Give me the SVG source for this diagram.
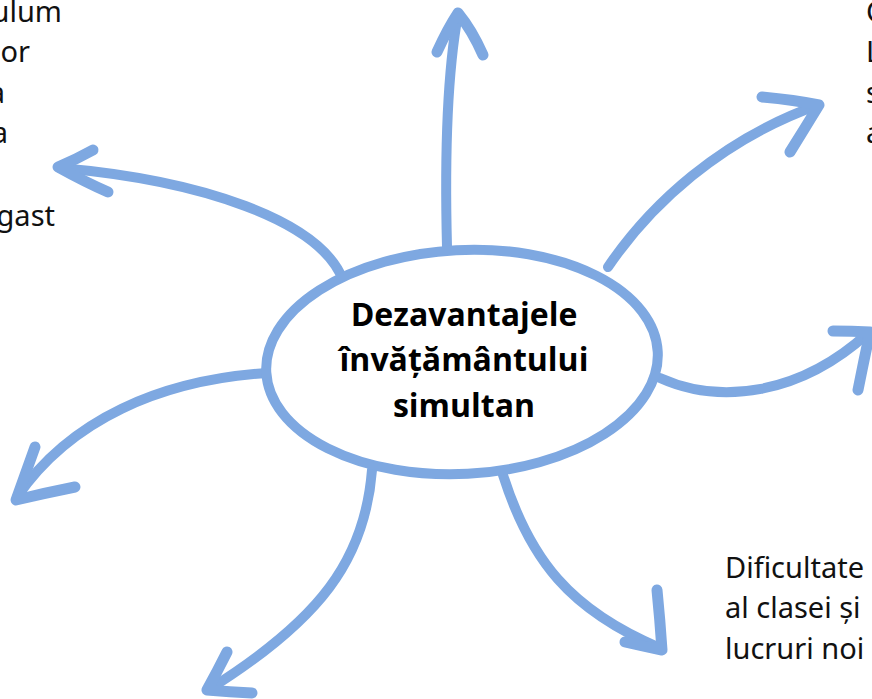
<svg xmlns="http://www.w3.org/2000/svg" width="872" height="699" viewBox="0 0 872 699">
<style>
.conn{fill:none;stroke:#7ea8e1;stroke-width:10;stroke-linecap:round;stroke-linejoin:round}
.head{fill:none;stroke:#7ea8e1;stroke-width:11;stroke-linecap:round;stroke-linejoin:round}
.side{font-family:"Noto Sans","Open Sans",sans-serif;font-size:29px;fill:#111}
.title{font-family:"Open Sans","Noto Sans",sans-serif;font-size:32px;font-weight:bold;fill:#000;text-anchor:middle}
</style>
<rect width="872" height="699" fill="#fff"/>
<g id="connectors">
<path class="conn" d="M447,247 C445,170 446,80 458,14"/>
<path class="head" d="M437,52 Q448,28 458,13 Q472,30 483,55"/>
<path class="conn" d="M608,267 C650,205 720,140 818,105"/>
<path class="head" d="M762,97 Q795,100 819,105 Q805,128 790,152"/>
<path class="conn" d="M660,378 C720,405 800,395 868,333"/>
<path class="head" d="M833,331 Q852,331 870,332 Q864,360 858,390"/>
<path class="conn" d="M343,280 C320,220 200,180 60,168"/>
<path class="head" d="M93,150 Q75,160 58,167 Q85,182 108,192"/>
<path class="conn" d="M267,373 C160,380 70,420 17,497"/>
<path class="head" d="M35,447 Q25,475 16,500 Q45,493 75,487"/>
<path class="conn" d="M372,470 C365,560 320,620 208,690"/>
<path class="head" d="M227,652 Q217,672 207,690 Q230,692 252,693"/>
<path class="conn" d="M503,475 C530,560 570,610 660,648"/>
<path class="head" d="M657,590 Q660,620 662,650 Q642,646 625,642"/>
</g>
<g id="center">
<ellipse cx="462" cy="362" rx="196" ry="112" transform="rotate(-3 462 362)" fill="#fff" stroke="#7ea8e1" stroke-width="10"/>
<text class="title" x="464" y="326">Dezavantajele</text>
<text class="title" x="464" y="371">învățământului</text>
<text class="title" x="464" y="417">simultan</text>
</g>
<g id="text-left">
<text class="side" x="62" y="22" text-anchor="end">ulum</text>
<text class="side" x="30" y="62" text-anchor="end">or</text>
<text class="side" x="5" y="103" text-anchor="end">a</text>
<text class="side" x="8" y="143" text-anchor="end">a</text>
<text class="side" x="55" y="226" text-anchor="end">gast</text>
</g>
<g id="text-top-right">
<text class="side" x="866" y="22">C</text>
<text class="side" x="866" y="62">L</text>
<text class="side" x="866" y="103">s</text>
<text class="side" x="866" y="143">a</text>
</g>
<g id="text-bottom-right">
<text class="side" x="725" y="578">Dificultate</text>
<text class="side" x="725" y="618">al clasei și</text>
<text class="side" x="725" y="659">lucruri noi</text>
</g>
</svg>
